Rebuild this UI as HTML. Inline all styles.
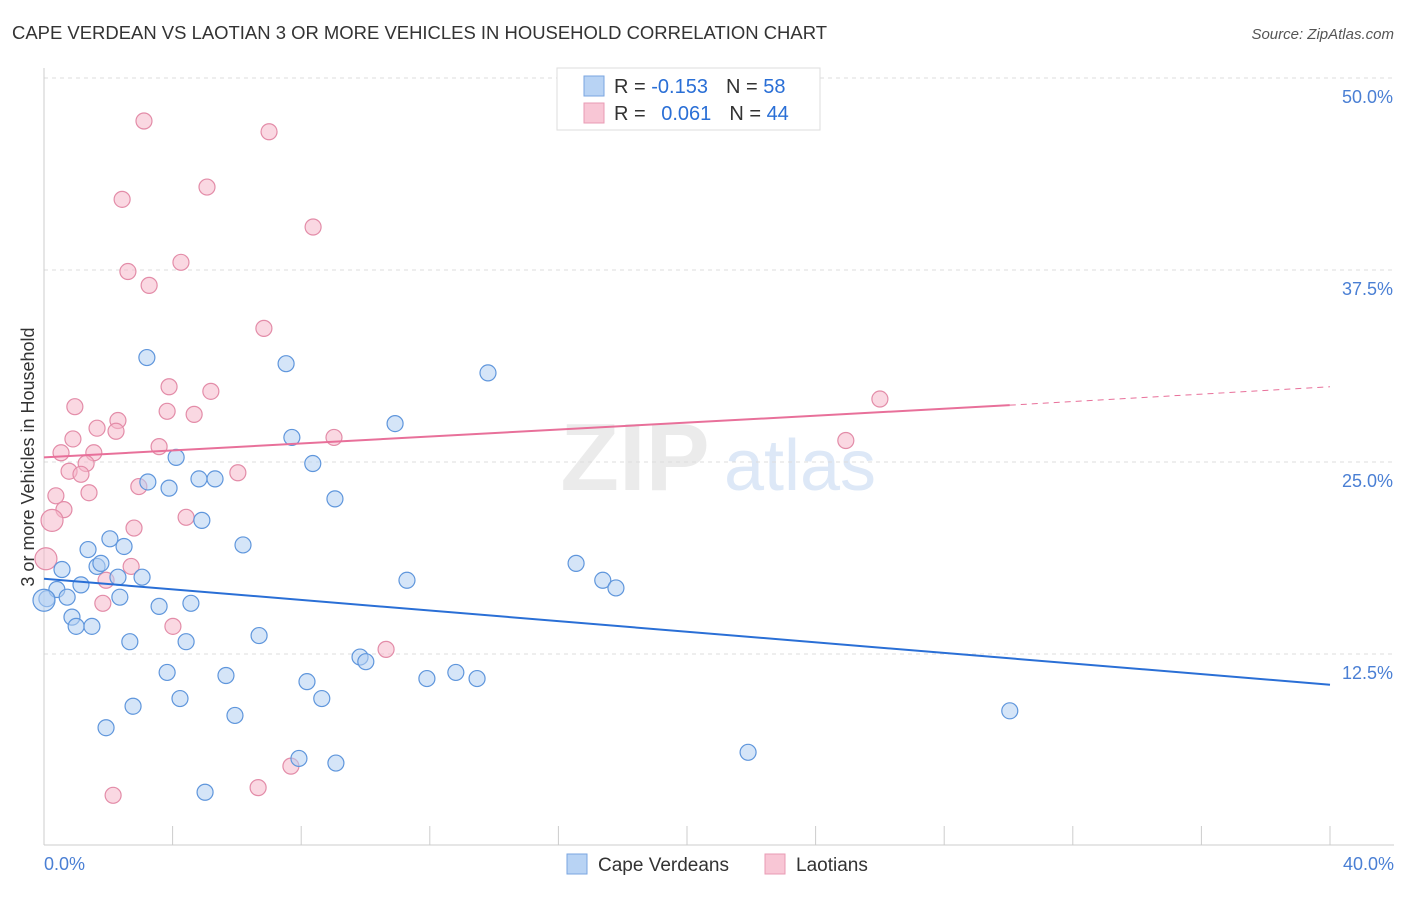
<!DOCTYPE html>
<html><head><meta charset="utf-8"><style>
body{margin:0;background:#fff;font-family:"Liberation Sans",sans-serif;}
svg text{font-family:"Liberation Sans",sans-serif;}
</style></head><body>
<svg id="chart" width="1406" height="892" viewBox="0 0 1406 892" xmlns="http://www.w3.org/2000/svg">
<text x="12" y="39" font-size="18.5" fill="#333" textLength="815" lengthAdjust="spacingAndGlyphs">CAPE VERDEAN VS LAOTIAN 3 OR MORE VEHICLES IN HOUSEHOLD CORRELATION CHART</text>
<text x="1394" y="39" font-size="15" fill="#555" font-style="italic" text-anchor="end">Source: ZipAtlas.com</text>
<g>
<text x="635" y="490" font-size="96" fill="#ebebeb" font-family="Liberation Serif" text-anchor="middle" font-weight="bold">ZIP</text>
<text x="800" y="490" font-size="72" fill="#dde8f7" text-anchor="middle">atlas</text>
</g>
<g id="grid"></g>
<g id="axes"></g>
<g id="points"></g>
<g id="trends"></g>
<text transform="translate(34,457) rotate(-90)" font-size="18" fill="#333" text-anchor="middle">3 or more Vehicles in Household</text>
<g>
<rect x="557" y="68" width="263" height="62" fill="#fff" stroke="#ddd"/>
<rect x="584" y="76" width="20" height="20" fill="#b8d3f4" stroke="#7aa6e0"/>
<rect x="584" y="103" width="20" height="20" fill="#f8c6d5" stroke="#e99bb4"/>
<text x="614" y="93" font-size="20" fill="#333">R = <tspan fill="#2a6fd6">-0.153</tspan><tspan dx="18">N = </tspan><tspan fill="#2a6fd6">58</tspan></text>
<text x="614" y="120" font-size="20" fill="#333">R = <tspan fill="#2a6fd6" dx="10">0.061</tspan><tspan dx="18">N = </tspan><tspan fill="#2a6fd6">44</tspan></text>
</g>
<g>
<rect x="567" y="854" width="20" height="20" fill="#b8d3f4" stroke="#7aa6e0"/>
<text x="598" y="871" font-size="19" fill="#333">Cape Verdeans</text>
<rect x="765" y="854" width="20" height="20" fill="#f8c6d5" stroke="#e99bb4"/>
<text x="796" y="871" font-size="19" fill="#333">Laotians</text>
</g>
</svg>
<script>
const blueX=[0.09,0.40,0.56,0.72,0.87,1.00,1.15,1.37,1.49,1.65,1.77,2.05,1.93,2.30,2.36,2.49,2.67,2.77,3.05,3.20,3.23,3.58,3.83,3.89,4.11,4.23,4.42,4.57,4.82,4.91,5.01,5.32,5.66,5.94,6.19,6.69,7.53,7.71,7.93,8.18,8.36,8.64,9.05,9.08,9.83,10.01,10.92,11.29,11.91,12.81,13.47,13.81,16.55,17.38,17.79,21.90,30.04,0.0];
const blueY=[16.1,16.7,18.0,16.2,14.9,14.3,17.0,19.3,14.3,18.2,18.4,20.0,7.7,17.5,16.2,19.5,13.3,9.1,17.5,31.8,23.7,15.6,11.3,23.3,25.3,9.6,13.3,15.8,23.9,21.2,3.5,23.9,11.1,8.5,19.6,13.7,31.4,26.6,5.7,10.7,24.9,9.6,22.6,5.4,12.3,12.0,27.5,17.3,10.9,11.3,10.9,30.8,18.4,17.3,16.8,6.1,8.8,16.0];
const pinkX=[3.11,7.00,5.07,2.43,8.37,4.26,2.61,3.27,6.84,3.89,5.19,26.0,0.96,3.83,4.67,2.30,1.65,2.24,0.90,9.02,24.94,3.58,0.53,1.55,1.31,0.78,1.15,6.03,2.95,1.40,0.37,0.62,4.42,0.25,2.80,0.06,2.71,1.93,1.83,4.01,10.64,7.68,6.66,2.15];
const pinkY=[47.2,46.5,42.9,42.1,40.3,38.0,37.4,36.5,33.7,29.9,29.6,29.1,28.6,28.3,28.1,27.7,27.2,27.0,26.5,26.6,26.4,26.0,25.6,25.6,24.9,24.4,24.2,24.3,23.4,23.0,22.8,21.9,21.4,21.2,20.7,18.7,18.2,17.3,15.8,14.3,12.8,5.2,3.8,3.3];
const yTicks=[12.5,25.0,37.5,50.0];
const xTickLabels=["0.0%","40.0%"];
const blueTrend=[17.4,10.5];
const pinkTrend=[25.3,28.7,29.9];
const pinkSolidEnd=30.04;
const NS="http://www.w3.org/2000/svg";
const sx=v=>44+v/40*1286, sy=v=>846-v/50*768;
function mk(tag,attrs,parent){const e=document.createElementNS(NS,tag);for(const k in attrs)e.setAttribute(k,attrs[k]);parent.appendChild(e);return e;}
const grid=document.getElementById('grid'),axes=document.getElementById('axes'),pts=document.getElementById('points'),tr=document.getElementById('trends');
yTicks.forEach(t=>{
 const l=mk('line',{x1:44,x2:1394,y1:sy(t),y2:sy(t),stroke:'#ddd','stroke-dasharray':'4,4'},grid);
 
 
 const tx=mk('text',{x:1393,y:sy(t)+25,'font-size':18,fill:'#4a7fd4','text-anchor':'end'},grid);
 tx.textContent=t.toFixed(1)+'%';
 
 
});
const ax=mk('line',{x1:44,x2:1394,y1:845,y2:845,stroke:'#ccc'},axes);


const ay=mk('line',{x1:44,x2:44,y1:68,y2:845,stroke:'#ccc'},axes);


for(let i=0;i<=10;i++){
 const t=mk('line',{x1:sx(i*4),x2:sx(i*4),y1:826,y2:845,stroke:'#ccc'},axes);
 
 
}
[[0,'start',44],[1,'end',1394]].forEach(([i,a,x])=>{
 const t=mk('text',{x:x,y:870,'font-size':18,fill:'#4a7fd4','text-anchor':a},axes);
 t.textContent=xTickLabels[i];
 
 
});
function drawPts(X,Y,fill,stroke,name){
 X.forEach((x,i)=>{
  const big=(x<0.3&&(name==='laotian-point'||i===X.length-1));
  const c=mk('circle',{cx:sx(x),cy:sy(Y[i]),r:big?11:8,fill:fill,'fill-opacity':0.55,stroke:stroke,'stroke-width':1.2},pts);
  
  
 });
}
drawPts(pinkX,pinkY,'#f5b8cb','#e38ca8','laotian-point');
drawPts(blueX,blueY,'#b3cff2','#5f96dc','cape-verdean-point');
const bt=mk('line',{x1:sx(0),y1:sy(blueTrend[0]),x2:sx(40),y2:sy(blueTrend[1]),stroke:'#2a6fd6','stroke-width':2},tr);


const pt=mk('line',{x1:sx(0),y1:sy(pinkTrend[0]),x2:sx(pinkSolidEnd),y2:sy(pinkTrend[1]),stroke:'#e8709a','stroke-width':2},tr);


const pd=mk('line',{x1:sx(pinkSolidEnd),y1:sy(pinkTrend[1]),x2:sx(40),y2:sy(pinkTrend[2]),stroke:'#e8709a','stroke-width':1,'stroke-dasharray':'6,5'},tr);


</script>
</body></html>
